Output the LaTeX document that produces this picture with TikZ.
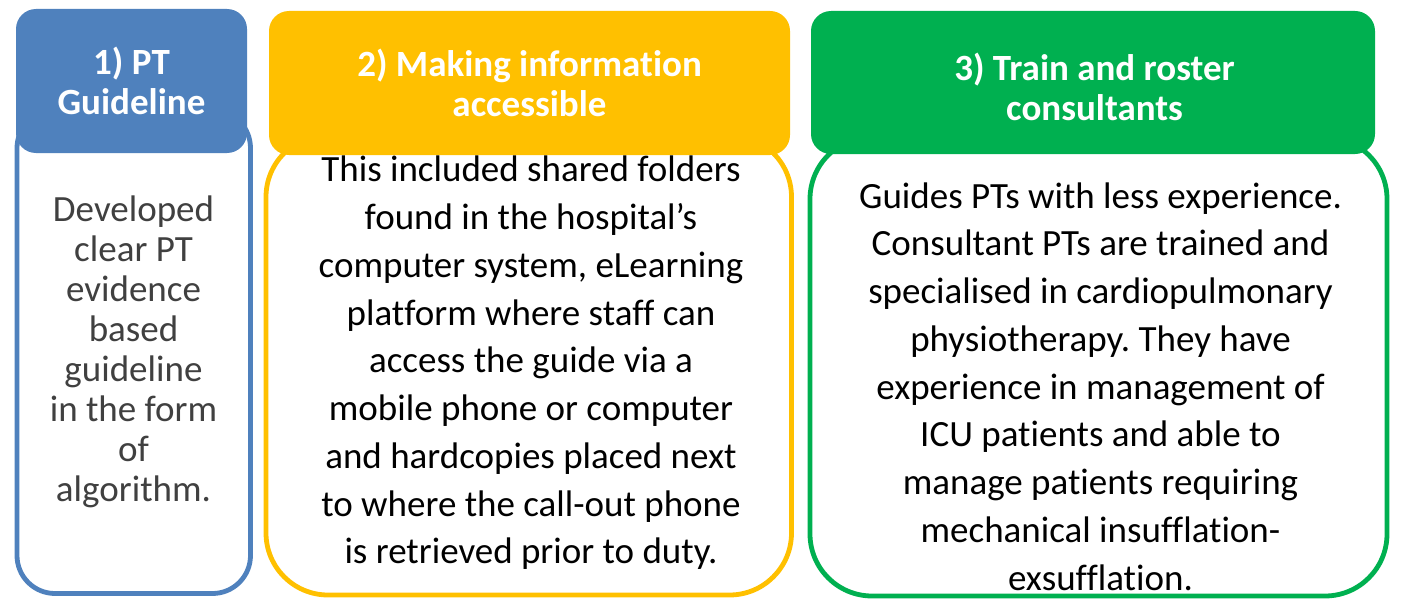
\documentclass[tikz,border=0pt]{standalone}
\usepackage{fontspec}
\setmainfont{Carlito}[Ligatures={NoCommon}]
\frenchspacing
\definecolor{cblue}{HTML}{4F81BD}
\definecolor{cyellow}{HTML}{FFC000}
\definecolor{cgreen}{HTML}{00B050}
\definecolor{cgray}{HTML}{404040}
\begin{document}
\begin{tikzpicture}[x=1pt,y=1pt,
  hdr/.style={inner sep=0pt, rounded corners=20pt, text=white, align=center,
    font=\fontsize{37}{40}\selectfont\bfseries},
  bodybox/.style={inner sep=0pt, fill=white, line width=4.8pt},
  bodytxt/.style={align=center, inner sep=0pt, font=\fontsize{37}{47.75}\selectfont}]
\useasboundingbox (0,0) rectangle (1404,-602);
% bodies
\node[bodybox, draw=cblue, rounded corners=38pt, minimum width=233.5pt, minimum height=483.5pt] (b1) at (133.75,-351.75) {};
\node[bodybox, draw=cyellow, rounded corners=62pt, minimum width=525.5pt, minimum height=460pt] (b2) at (528.75,-365) {};
\node[bodybox, draw=cgreen, rounded corners=62pt, minimum width=577pt, minimum height=459pt] (b3) at (1098.5,-366.5) {};
% headers
\node[hdr, fill=cblue, minimum width=231pt, minimum height=144pt] (h1) at (131.5,-81) {1) PT\\Guideline};
\node[hdr, fill=cyellow, minimum width=521pt, minimum height=144pt] (h2) at (529.5,-83) {2) Making information\\accessible};
\node[hdr, fill=cgreen, minimum width=564pt, minimum height=143pt] (h3) at (1093,-82.5) {};
\node[hdr] (h3t) at (1094.5,-86.5) {3) Train and roster\\consultants};
% texts
\node[bodytxt, text=cgray, font=\fontsize{37}{40}\selectfont] (t1) at (133.5,-352) {Developed\\clear PT\\evidence\\based\\guideline\\in the form\\of\\algorithm.};
\node[bodytxt] (t2) at (531,-363) {This included shared folders\\found in the hospital’s\\computer system, eLearning\\platform where staff can\\access the guide via a\\mobile phone or computer\\and hardcopies placed next\\to where the call-out phone\\is retrieved prior to duty.};
\node[bodytxt] (t3) at (1100.5,-386.5) {Guides PTs with less experience.\\Consultant PTs are trained and\\specialised in cardiopulmonary\\physiotherapy. They have\\experience in management of\\ICU patients and able to\\manage patients requiring\\mechanical insufflation-\\exsufflation.};
\end{tikzpicture}
\end{document}
